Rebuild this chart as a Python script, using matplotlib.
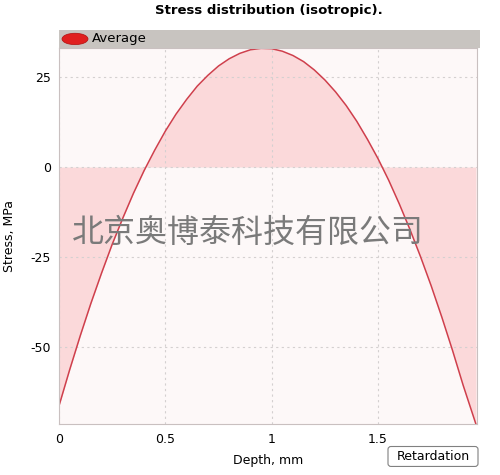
import matplotlib
matplotlib.use('Agg')
import matplotlib.pyplot as plt
from matplotlib.patches import Rectangle, Ellipse, FancyBboxPatch

# Stress profile
depth = [0.0, 0.05, 0.1, 0.15, 0.2, 0.25, 0.3, 0.35, 0.4, 0.45, 0.5,
         0.55, 0.6, 0.65, 0.7, 0.75, 0.8, 0.85, 0.9, 0.95, 1.0,
         1.05, 1.1, 1.15, 1.2, 1.25, 1.3, 1.35, 1.4, 1.45, 1.5,
         1.55, 1.6, 1.65, 1.7, 1.75, 1.8, 1.85, 1.9, 1.96]
stress = [-66.4, -56.4, -46.9, -37.9, -29.5, -21.5, -14.2, -7.3, -1.0, 4.7, 10.0,
          14.7, 18.8, 22.5, 25.5, 28.1, 30.1, 31.6, 32.6, 33.0, 32.9,
          32.2, 31.0, 29.3, 27.0, 24.2, 20.9, 17.1, 12.7, 7.7, 2.3,
          -3.7, -10.3, -17.4, -25.0, -33.1, -41.8, -51.0, -60.7, -71.5]

xticks = [0, 0.5, 1, 1.5]
xlabels = ['0', '0.5', '1', '1.5']
yticks = [25, 0, -25, -50]
ylabels = ['25', '0', '-25', '-50']

fig = plt.figure(figsize=(5, 4.75), dpi=100)
ax = fig.add_axes([0.118, 0.107, 0.836, 0.792])
ax.set_facecolor('#fdf8f8')

# Fill between curve and zero, then the curve
ax.fill_between(depth, stress, 0, color='#fbd9da', linewidth=0)
ax.plot(depth, stress, color='#cf3f4c', linewidth=1.1)

ax.set_xlim(0, 1.965)
ax.set_ylim(-71.5, 33.1)
ax.set_xticks(xticks)
ax.set_xticklabels(xlabels)
ax.set_yticks(yticks)
ax.set_yticklabels(ylabels)
ax.tick_params(length=0, labelsize=9, pad=6)
ax.grid(True, linestyle=(0, (2, 3)), color='#d4d0d0', linewidth=0.8)
for s in ax.spines.values():
    s.set_color('#c9c0c0')

ax.set_xlabel('Depth, mm', fontsize=9, labelpad=6)
ax.set_ylabel('Stress, MPa', fontsize=9, labelpad=10)

# Title
fig.text(0.537, 0.978, 'Stress distribution (isotropic).', ha='center', va='center',
         fontsize=9.5, fontweight='bold')

# Legend bar on top of the plot
fig.patches.append(Rectangle((0.118, 0.899), 0.842, 0.038, transform=fig.transFigure,
                             facecolor='#c8c4c0', edgecolor='none'))
fig.patches.append(Ellipse((0.15, 0.918), 0.052, 0.024, transform=fig.transFigure,
                           facecolor='#e02020', edgecolor='#b01010', linewidth=0.5))
fig.text(0.184, 0.918, 'Average', ha='left', va='center', fontsize=9.5)

# Retardation button
fig.patches.append(FancyBboxPatch((0.776, 0.018), 0.18, 0.042,
                                  boxstyle='round,pad=0.0,rounding_size=0.006',
                                  transform=fig.transFigure, facecolor='white',
                                  edgecolor='#808080', linewidth=0.8))
fig.text(0.866, 0.039, 'Retardation', ha='center', va='center', fontsize=9)

# Watermark
fig.text(0.495, 0.509, '北京奥博泰科技有限公司', ha='center', va='center',
         fontsize=23, color='#7a7a7a', family=['Noto Sans CJK SC', 'DejaVu Sans'])

fig.savefig('out.png', dpi=100)
